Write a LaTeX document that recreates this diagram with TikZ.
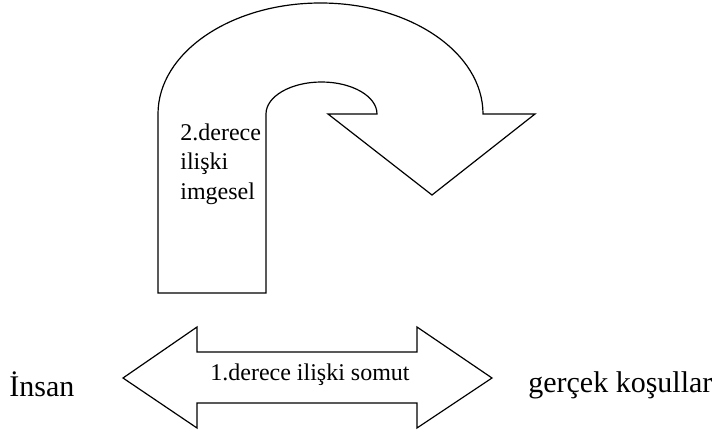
\documentclass[tikz,border=0pt]{standalone}
\usepackage{fontspec}
\setmainfont{Liberation Serif}
\usepackage{tikz}
\tikzset{every picture/.style={line width=1.2pt}}
\tikzset{
  inlabel/.style={inner sep=0.75pt, font=\fontsize{24}{29.5}\selectfont},
  outlabel/.style={inner sep=0.75pt, font=\fontsize{30}{35}\selectfont}
}

\begin{document}
\begin{tikzpicture}[x=1pt,y=1pt,yscale=-1,xscale=1]
\useasboundingbox (0,0) rectangle (715,436);

%Shape: U-Turn Arrow
\draw   (158,293) -- (158,114) arc[start angle=180, end angle=360, x radius=162.5, y radius=111] -- (535,114) -- (432,195) -- (328,114) -- (377,114) arc[start angle=0, end angle=-180, x radius=55.5, y radius=32] -- (266,293) -- cycle ;
%Shape: Left-Right Arrow
\draw   (123,378) -- (197,327) -- (197,352) -- (417,352) -- (417,327) -- (492,378) -- (417,428) -- (417,403) -- (197,403) -- (197,428) -- cycle ;

% Text Node
\node (deg2) [inlabel, anchor=base west, align=left] at (179,199) {2.derece\\ilişki\\imgesel};
% Text Node
\node (deg1) [inlabel, anchor=base west] at (209,380) {1.derece ilişki somut};
% Text Node
\node (insan) [outlabel, anchor=base west] at (8,396) {İnsan};
% Text Node
\node (kosul) [outlabel, anchor=base west] at (527,392) {gerçek koşullar};

\end{tikzpicture}
\end{document}
